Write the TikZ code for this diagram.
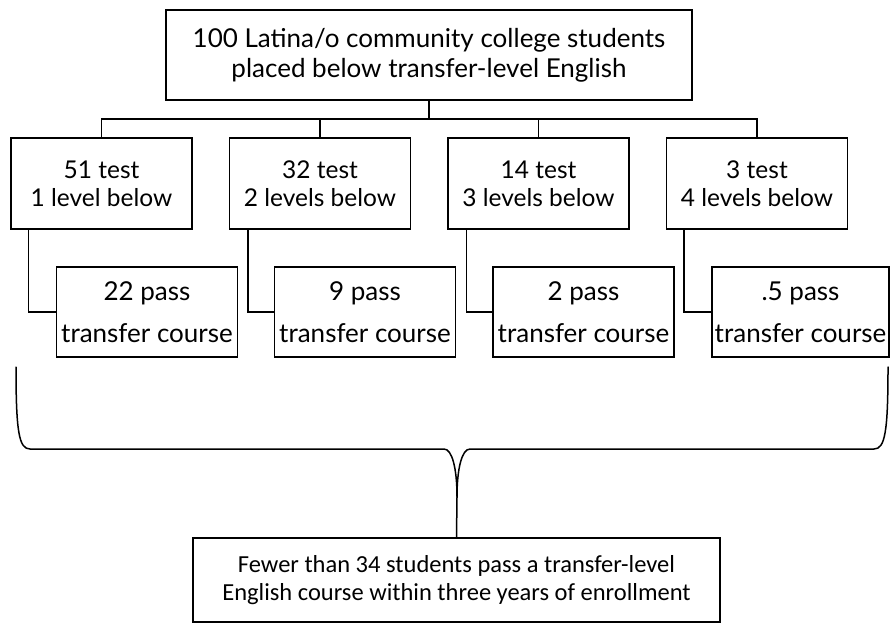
\documentclass[tikz,border=0pt]{standalone}
\usepackage{fontspec}
\setmainfont{Lato}
\newfontfamily\calfont{Carlito}
\begin{document}
\begin{tikzpicture}[x=1pt,y=-1pt,
  box/.style={draw=black,line width=1.5pt,inner sep=0pt,align=center,fill=white},
  topbox/.style={box,minimum width=526pt,minimum height=90pt,font=\fontsize{26}{30}\selectfont},
  lvlbox/.style={box,minimum width=181pt,minimum height=91pt,font=\fontsize{24.5}{28}\selectfont},
  passbox/.style={box,minimum width=181pt,minimum height=90pt,font=\fontsize{26}{42}\selectfont},
  botbox/.style={box,minimum width=527pt,minimum height=84pt,font=\calfont\fontsize{24.5}{28}\selectfont},
  conn/.style={draw=black,line width=1.5pt},
  brace/.style={draw=black,line width=1.5pt,line cap=round}]
\useasboundingbox (0,0) rectangle (890,624);
\node[topbox] (top) at (429,55) {100 Latina/o community college students\\placed below transfer-level English};
\node[lvlbox] (l1) at (101.5,183.5) {51 test\\1 level below};
\node[lvlbox] (l2) at (320,183.5) {32 test\\2 levels below};
\node[lvlbox] (l3) at (538.5,183.5) {14 test\\3 levels below};
\node[lvlbox] (l4) at (757,183.5) {3 test\\4 levels below};
\node[passbox] (p1) at (147,312) {22 pass\\transfer course};
\node[passbox] (p2) at (365,312) {9 pass\\transfer course};
\node[passbox] (p3) at (583.5,312) {2 pass\\transfer course};
\node[passbox,minimum width=177pt] (p4) at (800.5,312) {.5 pass\\transfer course};
\node[botbox] (bot) at (456.5,580) {Fewer than 34 students pass a transfer-level\\English course within three years of enrollment};
\coordinate (bus) at (0,119);
\draw[conn] (top.south) -- (top.south |- bus);
\draw[conn] (l1.north) -- (l1.north |- bus) -| (l4.north);
\draw[conn] (l2.north) -- (l2.north |- bus);
\draw[conn] (l3.north) -- (l3.north |- bus);
\draw[conn] ([xshift=18pt]l1.south west) |- (p1.west);
\draw[conn] ([xshift=19pt]l2.south west) |- (p2.west);
\draw[conn] ([xshift=19pt]l3.south west) |- (p3.west);
\draw[conn] ([xshift=18pt]l4.south west) |- (p4.west);
\coordinate (bl) at (16,367);
\coordinate (br) at (888,367);
\coordinate (tip) at (457,497);
\draw[brace] (bl) .. controls (16,432) and (19,449) .. (30,449) -- (444,449)
  .. controls (452,449) and (457,468) .. (tip) -- (bot.north);
\draw[brace] (tip) .. controls (457,468) and (462,449) .. (470,449) -- (874,449)
  .. controls (885,449) and (888,432) .. (br);
\end{tikzpicture}
\end{document}
